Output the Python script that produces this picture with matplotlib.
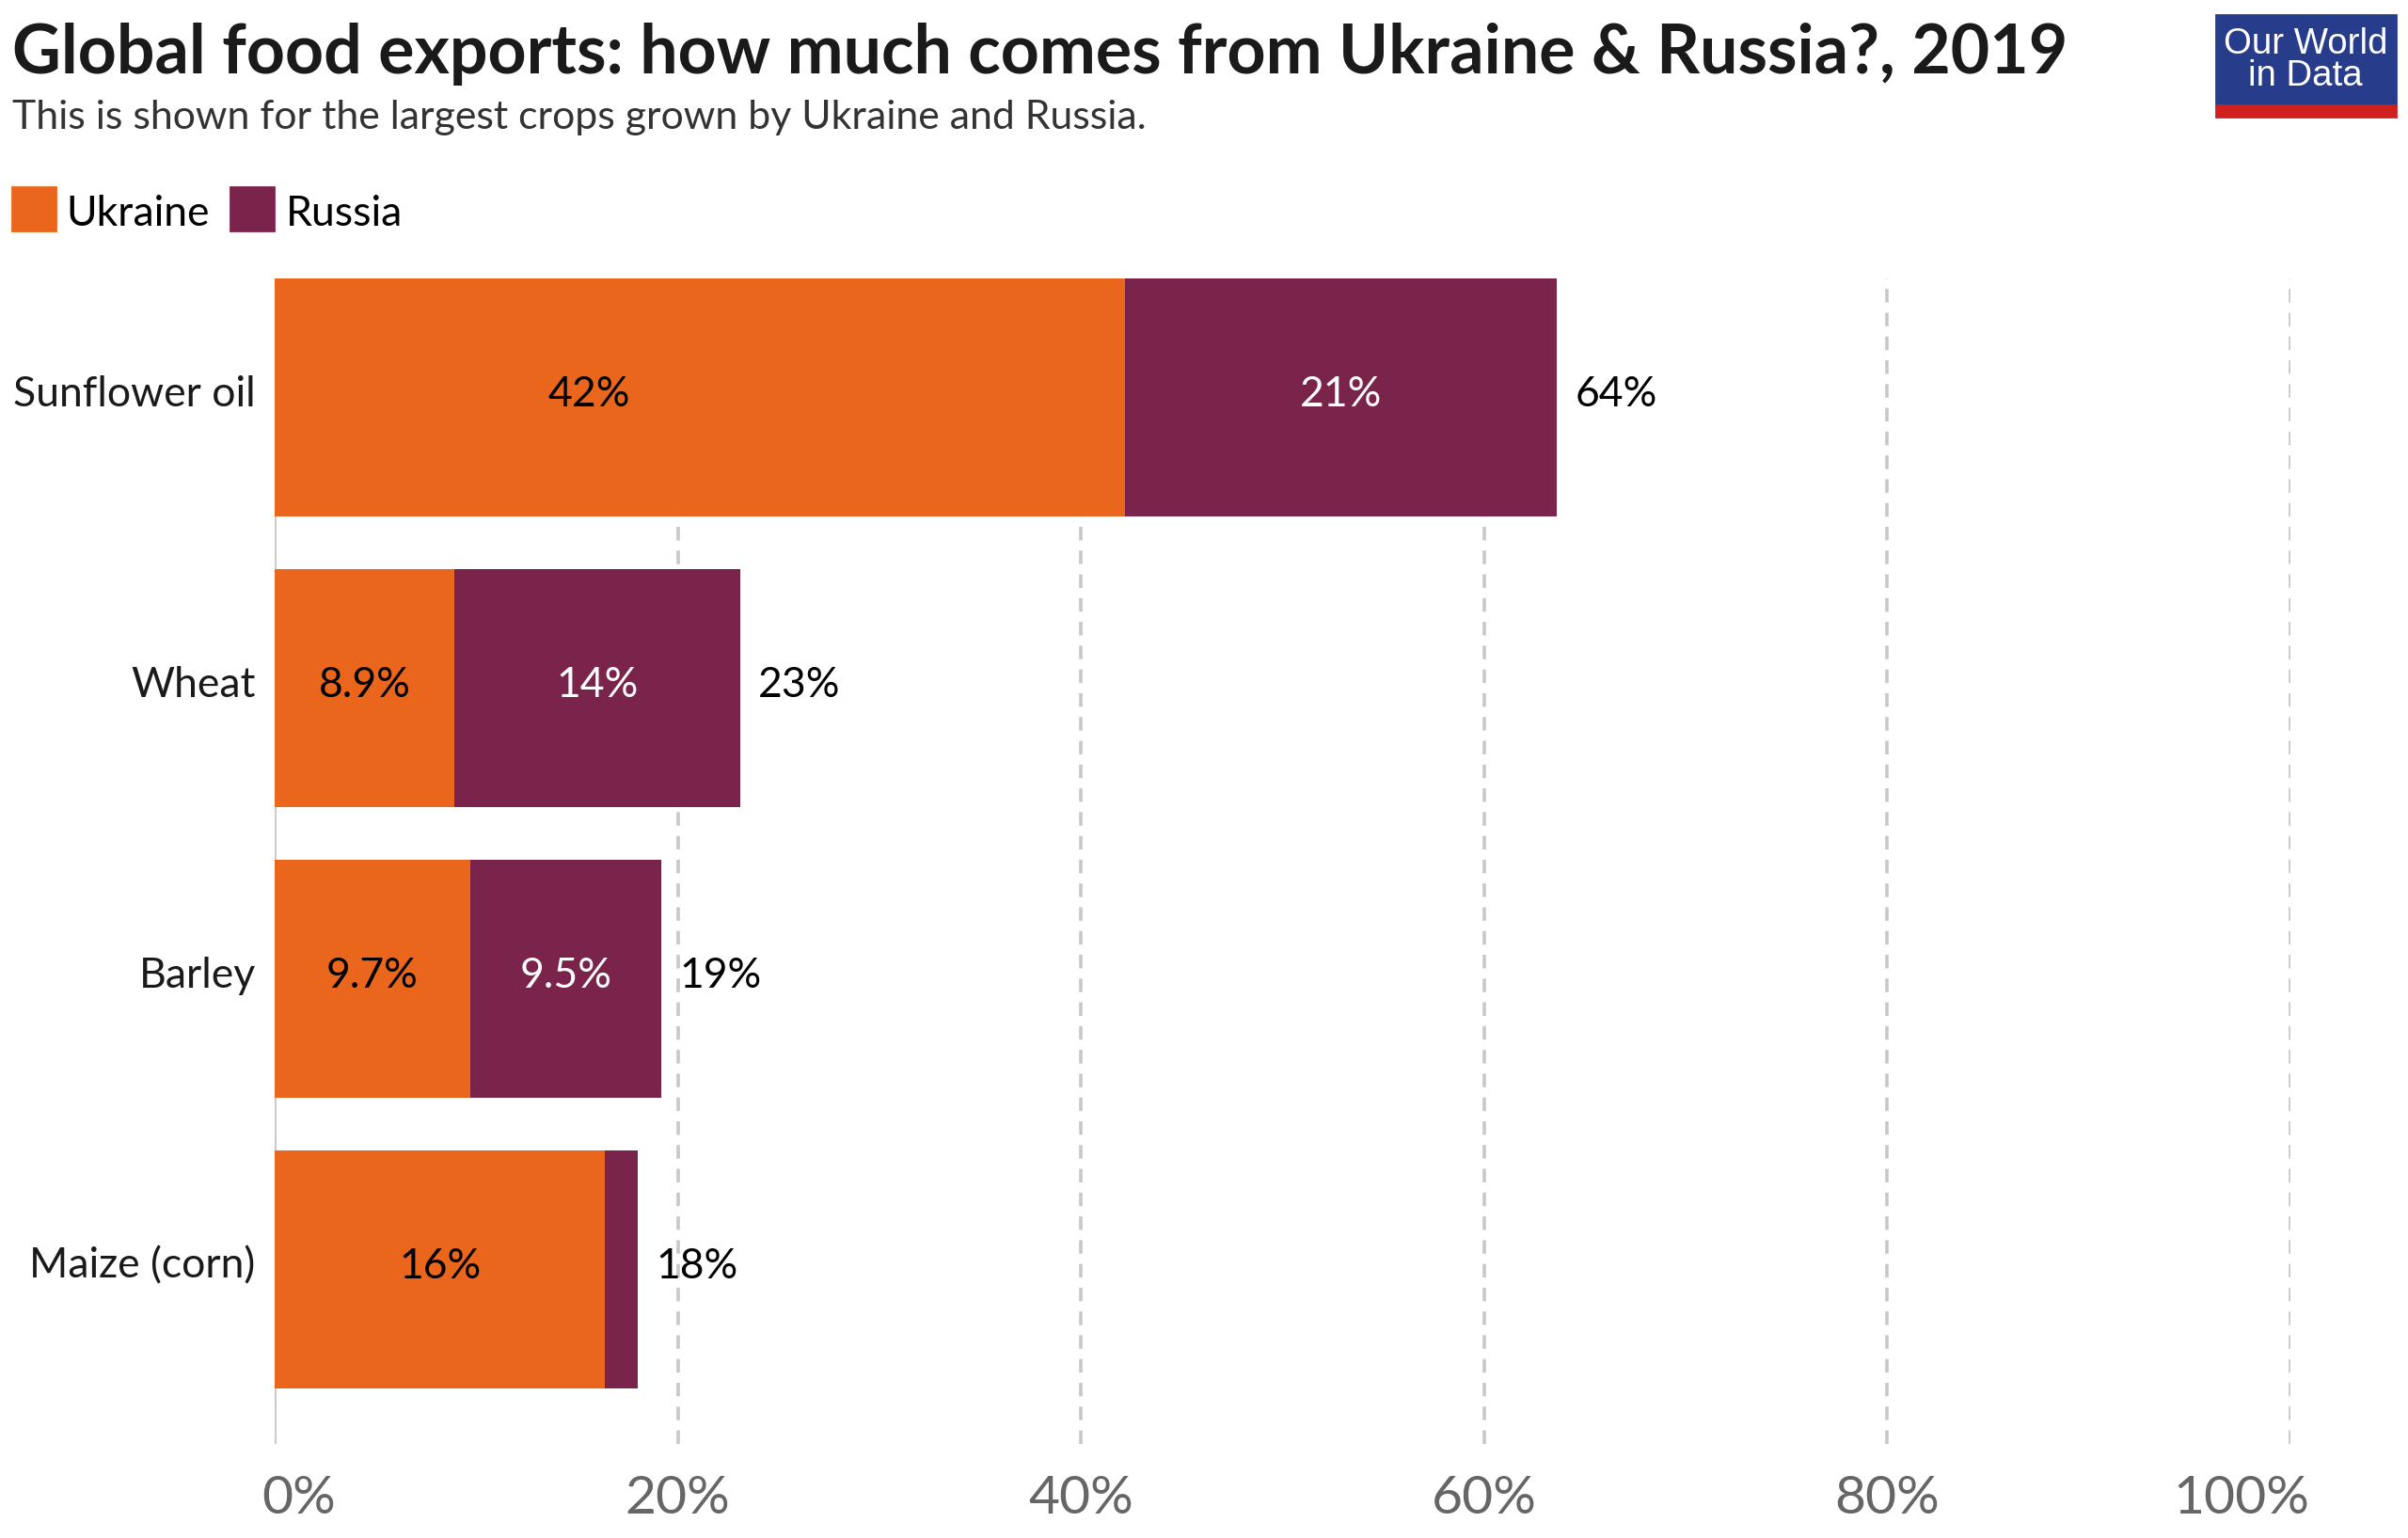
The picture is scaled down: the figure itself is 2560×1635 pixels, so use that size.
import matplotlib.pyplot as plt
import matplotlib.transforms as mtransforms
from matplotlib.patches import Rectangle

# data (share of global exports, %)
crops = ["Sunflower oil", "Wheat", "Barley", "Maize (corn)"]
ukraine = [42.2, 8.9, 9.7, 16.4]
russia = [21.4, 14.2, 9.5, 1.6]
ukraine_labels = ["42%", "8.9%", "9.7%", "16%"]
russia_labels = ["21%", "14%", "9.5%", ""]
total_labels = ["64%", "23%", "19%", "18%"]
ticks = [0, 20, 40, 60, 80, 100]
tick_labels = ["0%", "20%", "40%", "60%", "80%", "100%"]

ORANGE = "#e9661c"
PURPLE = "#7a244c"

plt.rcParams["font.family"] = ["Lato", "DejaVu Sans"]

W, H = 2560, 1635
fig = plt.figure(figsize=(W / 200, H / 200), dpi=200)
ax = fig.add_axes([292 / W, 1 - 1535 / H, (2435 - 292) / W, (1535 - 296) / H])

y = list(range(len(crops)))
ax.barh(y, ukraine, height=0.82, color=ORANGE, zorder=3)
ax.barh(y, russia, left=ukraine, height=0.82, color=PURPLE, zorder=3)

# the original puts the sunflower oil label left of the segment centre
ukr_x = [u / 2 for u in ukraine]
ukr_x[0] = 15.6

# text sits a few pixels above the bar centre in the original
up = mtransforms.ScaledTranslation(0, 3.5 / 200, fig.dpi_scale_trans)
tr = ax.transData + up
lab_tr = ax.get_yaxis_transform() + up

for i in y:
    ax.text(ukr_x[i], i, ukraine_labels[i], ha="center", va="center",
            fontsize=16, color="black", zorder=4, transform=tr)
    if russia_labels[i]:
        ax.text(ukraine[i] + russia[i] / 2, i, russia_labels[i], ha="center",
                va="center", fontsize=16, color="white", zorder=4, transform=tr)
    ax.text(ukraine[i] + russia[i] + 0.9, i, total_labels[i], ha="left",
            va="center", fontsize=16, color="black", zorder=4, transform=tr)
    ax.text(-0.0095, i, crops[i], ha="right", va="center", fontsize=16,
            color="#1a1a1a", transform=lab_tr)

ax.set_xlim(0, 100)
ax.set_ylim(3.6, -0.41)
ax.set_yticks([])
ax.set_xticks(ticks)
ax.set_xticklabels(tick_labels, fontsize=20.5, color="#666666")
ax.tick_params(axis="x", length=0, pad=12)
for s in ax.spines.values():
    s.set_visible(False)

# first and last tick labels are pulled inside, as in the original
xl = ax.get_xticklabels()
xl[0].set_ha("left")
xl[0].set_transform(xl[0].get_transform() + mtransforms.ScaledTranslation(-14 / 200, 0, fig.dpi_scale_trans))
xl[-1].set_ha("right")
xl[-1].set_transform(xl[-1].get_transform() + mtransforms.ScaledTranslation(20 / 200, 0, fig.dpi_scale_trans))

for t in ticks[1:]:
    ax.axvline(t, color="#c8c8c8", linestyle=(0, (4, 3)), linewidth=1.3, zorder=1)
ax.axvline(0, color="#cccccc", linewidth=1.5, zorder=2)

# title, subtitle
fig.text(13 / W, 1 - 78 / H, "Global food exports: how much comes from Ukraine & Russia?, 2019",
         fontsize=25.8, fontweight="bold", color="#1a1a1a", va="baseline")
fig.text(13 / W, 1 - 137 / H, "This is shown for the largest crops grown by Ukraine and Russia.",
         fontsize=15.4, color="#333333", va="baseline")

# legend
fig.patches.append(Rectangle((13 / W, 1 - 245 / H), 46 / W, 46 / H,
                             transform=fig.transFigure, color=ORANGE))
fig.text(70 / W, 1 - 240 / H, "Ukraine", fontsize=16, va="baseline")
fig.patches.append(Rectangle((245 / W, 1 - 245 / H), 46 / W, 46 / H,
                             transform=fig.transFigure, color=PURPLE))
fig.text(304 / W, 1 - 240 / H, "Russia", fontsize=16, va="baseline")

# logo
fig.patches.append(Rectangle((2356 / W, 1 - 112 / H), 191 / W, 96 / H,
                             transform=fig.transFigure, color="#283c8c"))
fig.patches.append(Rectangle((2356 / W, 1 - 124 / H), 191 / W, 12 / H,
                             transform=fig.transFigure, color="#d0211e"))
fig.text(2451 / W, 1 - 64 / H, "Our World\nin Data", ha="center", va="center",
         fontsize=13.8, color="white", family=["Liberation Sans", "DejaVu Sans"],
         linespacing=0.95)

fig.savefig("out.png", dpi=200, facecolor="white")
